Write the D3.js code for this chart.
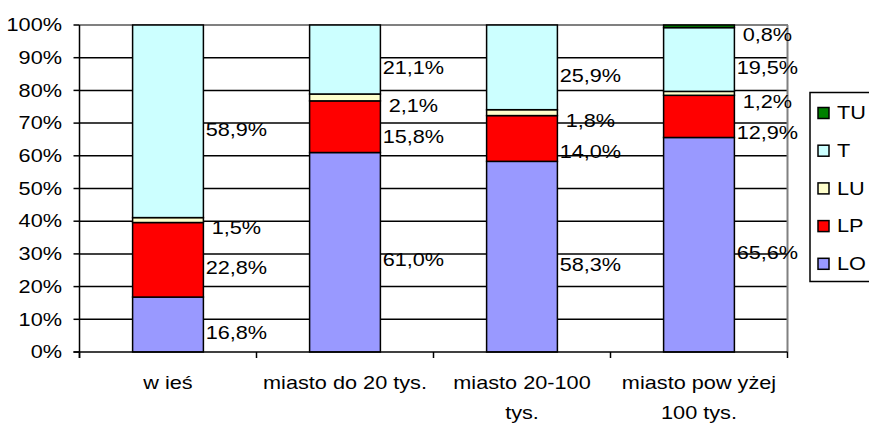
<!DOCTYPE html>
<html><head><meta charset="utf-8">
<script src="https://cdn.jsdelivr.net/npm/d3@7"></script>
<style>body{margin:0;background:#fff}svg{display:block}</style>
</head><body>
<svg id="c" width="869" height="424"></svg>
<script>
const categories = [["w ieś"], ["miasto do 20 tys."], ["miasto 20-100", "tys."], ["miasto pow yżej", "100 tys."]];
const seriesNames = ["LO", "LP", "LU", "T", "TU"];
const LO = [16.8, 61.0, 58.3, 65.6];
const LP = [22.8, 15.8, 14.0, 12.9];
const LU = [1.5, 2.1, 1.8, 1.2];
const T  = [58.9, 21.1, 25.9, 19.5];
const TU = [0, 0, 0, 0.8];
const yTicks = [0, 10, 20, 30, 40, 50, 60, 70, 80, 90, 100];
const colors = {LO: "#9999FF", LP: "#FF0000", LU: "#FFFFCC", T: "#CCFFFF", TU: "#008000"};

(function () {
const values = {LO, LP, LU, T, TU};
const svg = d3.select("#c");
const FONT = "'Liberation Sans', Arial, sans-serif";
const FS = 17.5, SX = 1.24;
const pl = 79.5, pr = 787.5, pt = 25, pb = 352;

const x = d3.scaleBand().domain(d3.range(categories.length)).range([pl, pr]).paddingInner(0.6).paddingOuter(0.3);
const xOuter = d3.scaleBand().domain(d3.range(categories.length)).range([pl, pr]);
const y = d3.scaleLinear().domain([0, 100]).range([pb, pt]);

function txt(parent, px, py, s, anchor) {
  const g = parent.append("g").attr("transform", `translate(${px},${py})`);
  g.append("text").attr("transform", `scale(${SX},1)`).attr("text-anchor", anchor || "start")
    .attr("dominant-baseline", "central").attr("font-family", FONT).attr("font-size", FS).attr("fill", "#000").text(s);
  return g;
}

svg.append("g").selectAll("line").data(yTicks.filter(d => d > 0 && d < 100)).join("line")
  .attr("x1", pl).attr("x2", pr).attr("y1", d => y(d)).attr("y2", d => y(d))
  .attr("stroke", "#000").attr("stroke-width", 1.5);
svg.append("line").attr("x1", pl).attr("x2", pr + 0.5).attr("y1", y(100)).attr("y2", y(100)).attr("stroke", "#808080").attr("stroke-width", 2);
svg.append("line").attr("x1", pr).attr("x2", pr).attr("y1", y(100)).attr("y2", pb).attr("stroke", "#808080").attr("stroke-width", 2);

const stack = d3.stack().keys(seriesNames)(d3.range(categories.length).map(i => {
  const o = {}; seriesNames.forEach(k => o[k] = values[k][i]); return o;
}));
stack.forEach(layer => {
  svg.append("g").selectAll("rect").data(layer.map((d, i) => ({d, i})).filter(o => o.d[1] - o.d[0] > 0)).join("rect")
    .attr("x", o => x(o.i)).attr("width", x.bandwidth())
    .attr("y", o => y(o.d[1])).attr("height", o => y(o.d[0]) - y(o.d[1]))
    .attr("fill", colors[layer.key]).attr("stroke", "#000").attr("stroke-width", 1.5);
});

svg.append("line").attr("x1", pl).attr("x2", pl).attr("y1", pt).attr("y2", pb + 6).attr("stroke", "#000").attr("stroke-width", 1.5);
svg.append("line").attr("x1", pl - 6).attr("x2", pr).attr("y1", pb).attr("y2", pb).attr("stroke", "#000").attr("stroke-width", 1.5);
yTicks.forEach(t => {
  svg.append("line").attr("x1", pl - 6).attr("x2", pl).attr("y1", y(t)).attr("y2", y(t)).attr("stroke", "#000").attr("stroke-width", 1.5);
  txt(svg, 62, y(t), t + "%", "end");
});
d3.range(categories.length + 1).forEach(i => {
  const xx = i < categories.length ? xOuter(i) : pr;
  svg.append("line").attr("x1", xx).attr("x2", xx).attr("y1", pb).attr("y2", pb + 6).attr("stroke", "#000").attr("stroke-width", 1.5);
});
categories.forEach((lines, i) => {
  lines.forEach((l, j) => txt(svg, x(i) + x.bandwidth() / 2, 383 + j * 29.5, l, "middle"));
});

d3.range(categories.length).forEach(i => {
  const labs = [];
  stack.forEach(layer => {
    const d = layer[i]; const v = d[1] - d[0];
    if (v > 0) labs.push({v, yc: y((d[0] + d[1]) / 2) + 8});
  });
  labs.sort((a, b) => a.yc - b.yc);
  for (let k = 1; k < labs.length; k++) if (labs[k].yc - labs[k - 1].yc < 31) labs[k].yc = labs[k - 1].yc + 31;
  labs.forEach(l => txt(svg, x(i) + x.bandwidth() + 33, l.yc, d3.format(".1f")(l.v).replace(".", ",") + "%", "middle"));
});

const lg = svg.append("g");
lg.append("rect").attr("x", 810).attr("y", 92.5).attr("width", 70).attr("height", 189).attr("fill", "#fff").attr("stroke", "#000").attr("stroke-width", 1.5);
seriesNames.slice().reverse().forEach((k, j) => {
  const cy = 113 + j * 37.7;
  lg.append("rect").attr("x", 818).attr("y", cy - 5.5).attr("width", 11).attr("height", 11).attr("fill", colors[k]).attr("stroke", "#000").attr("stroke-width", 1.5);
  txt(lg, 837, cy, k, "start");
});
})();
</script>
</body></html>
